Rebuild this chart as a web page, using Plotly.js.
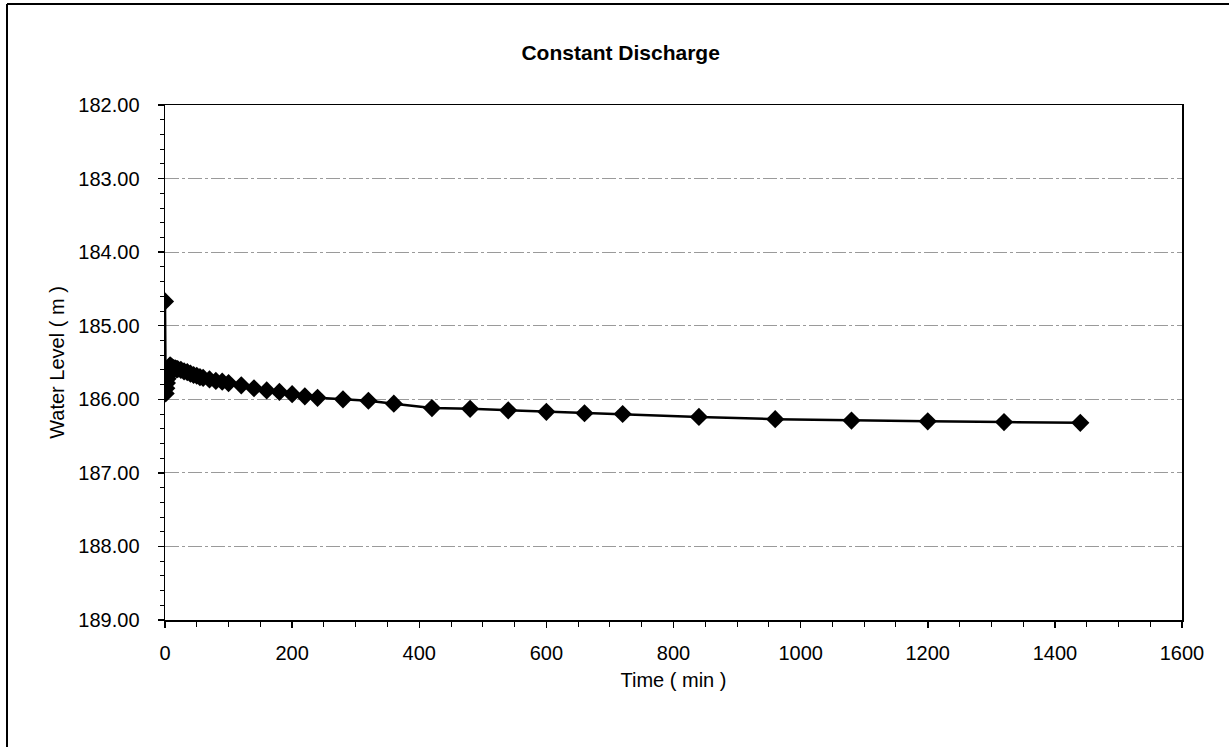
<!DOCTYPE html>
<html>
<head>
<meta charset="utf-8">
<script src="https://cdn.plot.ly/plotly-3.0.1.min.js"></script>
<style>
html,body{margin:0;padding:0;background:#fff;}
#chart{width:1229px;height:747px;}
</style>
</head>
<body>
<div id="chart"></div>
<script>
const timeMin = [0,1,2,3,4,5,6,7,8,9,10,12,14,16,18,20,25,30,35,40,45,50,55,60,70,80,90,100,120,140,160,180,200,220,240,280,320,360,420,480,540,600,660,720,840,960,1080,1200,1320,1440];
const waterLevel = [184.67,185.92,185.85,185.78,185.72,185.66,185.60,185.56,185.54,185.55,185.56,185.57,185.58,185.58,185.59,185.59,185.60,185.62,185.63,185.65,185.67,185.68,185.70,185.71,185.73,185.75,185.76,185.78,185.81,185.85,185.88,185.90,185.93,185.96,185.98,186.00,186.02,186.06,186.12,186.13,186.15,186.17,186.19,186.20,186.24,186.27,186.29,186.30,186.31,186.32];
const yTickVals = [182,183,184,185,186,187,188,189];
const yTickText = ["182.00","183.00","184.00","185.00","186.00","187.00","188.00","189.00"];
const xTickVals = [0,200,400,600,800,1000,1200,1400,1600];

const fontFam = '"Liberation Sans", Arial, sans-serif';

const trace = {
  x: timeMin,
  y: waterLevel,
  mode: 'lines+markers',
  type: 'scatter',
  line: {color: '#000', width: 2.5},
  marker: {symbol: 'diamond', size: 14, color: '#000'},
  hoverinfo: 'skip',
  showlegend: false
};

const layout = {
  width: 1229,
  height: 747,
  paper_bgcolor: '#fff',
  plot_bgcolor: '#fff',
  margin: {l: 165, r: 47, t: 105, b: 127},
  title: {
    text: '<b>Constant Discharge</b>',
    font: {family: fontFam, size: 21, color: '#000'},
    x: 0.505, xanchor: 'center', y: 0.93, yanchor: 'middle'
  },
  xaxis: {
    range: [0, 1600],
    tickvals: xTickVals,
    ticktext: xTickVals.map(String),
    showgrid: false,
    zeroline: false,
    showline: true, linecolor: '#000', linewidth: 1.5, mirror: true,
    ticks: 'outside', ticklen: 6, tickcolor: '#000', tickwidth: 1.5,
    ticklabelstandoff: 8,
    minor: {dtick: 50, ticks: 'outside', ticklen: 5, tickcolor: '#000', tickwidth: 1},
    tickfont: {family: fontFam, size: 20, color: '#000'},
    title: {text: 'Time ( min )', font: {family: fontFam, size: 20, color: '#000'}, standoff: 10}
  },
  yaxis: {
    range: [189, 182],
    tickvals: yTickVals,
    ticktext: yTickText,
    showgrid: true, gridcolor: '#9a9a9a', gridwidth: 1, griddash: '14px,3px,3px,3px',
    zeroline: false,
    showline: true, linecolor: '#000', linewidth: 1.5, mirror: true,
    ticks: 'outside', ticklen: 6, tickcolor: '#000', tickwidth: 1.5,
    ticklabelstandoff: 14,
    minor: {dtick: 0.2, ticks: 'outside', ticklen: 4, tickcolor: '#000', tickwidth: 1, showgrid: false},
    tickfont: {family: fontFam, size: 20, color: '#000'},
    title: {text: 'Water Level ( m )', font: {family: fontFam, size: 20, color: '#000'}, standoff: 8}
  },
  shapes: [
    {type: 'line', xref: 'paper', yref: 'paper', x0: (7-165)/1017, x1: (7-165)/1017, y0: (620-4)/515, y1: (620-747)/515, line: {color: '#000', width: 2}},
    {type: 'line', xref: 'paper', yref: 'paper', x0: (7-165)/1017, x1: (1229-165)/1017, y0: (620-4)/515, y1: (620-4)/515, line: {color: '#000', width: 2}}
  ]
};

Plotly.newPlot('chart', [trace], layout, {staticPlot: true, displayModeBar: false});
</script>
</body>
</html>
